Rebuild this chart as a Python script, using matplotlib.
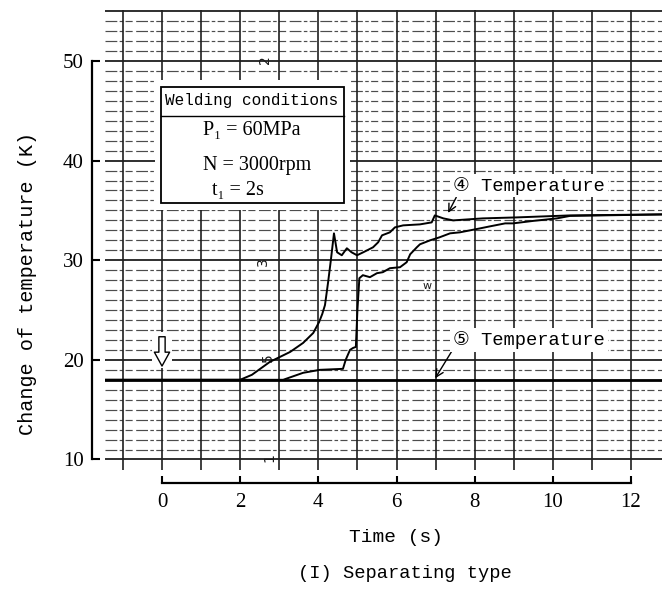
import numpy as np
import matplotlib
matplotlib.use("Agg")
import matplotlib.pyplot as plt
from matplotlib.patches import Rectangle

# ---------------- data ----------------
# Curve rising first (labelled 4 Temperature)
t_a = [-1.46, 2.0, 2.3, 2.76, 3.28, 3.61, 3.87, 4.02, 4.1, 4.17, 4.25, 4.32, 4.40,
       4.48, 4.6, 4.73, 4.85, 4.99, 5.15, 5.4, 5.53, 5.63, 5.83, 5.96, 6.17, 6.6,
       6.9, 6.98, 7.2, 7.45, 8.2, 9.08, 10.44, 12.8]
k_a = [18.0, 18.0, 18.5, 19.8, 20.8, 21.7, 22.7, 23.8, 24.6, 25.5, 27.8, 30.0, 32.7,
       30.8, 30.5, 31.2, 30.8, 30.5, 30.8, 31.3, 31.8, 32.5, 32.8, 33.3, 33.5, 33.6,
       33.8, 34.5, 34.2, 34.0, 34.2, 34.3, 34.5, 34.6]
# Curve rising later
t_b = [-1.46, 3.1, 3.61, 4.04, 4.63, 4.7, 4.81, 4.89, 4.96, 5.0, 5.05, 5.14, 5.32,
       5.5, 5.65, 5.83, 6.09, 6.26, 6.35, 6.52, 6.6, 6.86, 7.1, 7.37, 7.62, 7.88,
       8.14, 8.39, 8.65, 8.78, 8.98, 9.5, 10.1, 10.44, 12.8]
k_b = [18.0, 18.0, 18.7, 19.0, 19.1, 20.0, 21.0, 21.2, 21.3, 25.0, 28.2, 28.5, 28.3,
       28.7, 28.8, 29.2, 29.3, 29.8, 30.6, 31.3, 31.6, 32.0, 32.3, 32.7, 32.8, 33.0,
       33.2, 33.4, 33.6, 33.7, 33.7, 33.95, 34.2, 34.45, 34.6]
# Flat trace (labelled 5 Temperature)
t_c = [-1.46, 12.8]
k_c = [18.0, 18.0]

y_ticks = [10, 20, 30, 40, 50]
x_ticks = [0, 2, 4, 6, 8, 10, 12]

conditions_title = "Welding conditions"
conditions = ["P\u2081 = 60MPa", "N = 3000rpm", "t\u2081 = 2s"]

# ---------------- figure ----------------
W, H = 662, 591
fig = plt.figure(figsize=(W / 100, H / 100), dpi=100)
fig.patch.set_facecolor("white")

XL = (-1.4584, 12.793)
YL = (8.946, 55.117)

def fx(px):
    return px / W

def fy(py):
    return 1 - py / H

# grid-paper axes
ax = fig.add_axes([fx(105), fy(470), (662 - 105) / W, (470 - 10) / H])
ax.set_xlim(*XL)
ax.set_ylim(*YL)
ax.axis("off")

gc = "0.12"
minor = [k for k in range(11, 55) if k % 10 != 0]
ax.hlines(minor, XL[0], XL[1], colors="0.3", linewidth=0.85,
          linestyles=(0, (10, 2, 3, 2, 6, 3)), zorder=1)
ax.hlines([10, 20, 30, 40, 50, 55], XL[0], XL[1], colors=gc, linewidth=1.3, zorder=1)
ax.vlines(np.arange(-1, 13), YL[0], YL[1], colors=gc, linewidth=1.2, zorder=1)

# white areas behind inset box and arrow
ax.add_patch(Rectangle((-0.18, 35.0), 4.98, 13.1, fc="white", ec="none", zorder=2))
ax.add_patch(Rectangle((-0.26, 19.2), 0.52, 3.6, fc="white", ec="none", zorder=2))

# traces
ax.plot(t_c, k_c, color="black", linewidth=2.0, zorder=4)
ax.plot(t_a, k_a, color="black", linewidth=1.4, zorder=5)
ax.plot(t_b, k_b, color="black", linewidth=1.4, zorder=5)

# inset box
ax.add_patch(Rectangle((-0.026, 35.7), 4.69, 11.7, fc="white", ec="black",
                       linewidth=1.3, zorder=6))
ax.plot([-0.026, 4.664], [44.45, 44.45], color="black", linewidth=1.0, zorder=7)
ax.text(2.3, 46.0, conditions_title, ha="center", va="center",
        family=["Liberation Mono", "DejaVu Sans"], fontsize=11.5, zorder=8)
ax.text(1.05, 43.05, conditions[0], ha="left", va="center",
        family=["Liberation Serif", "DejaVu Serif"], fontsize=14.5, zorder=8)
ax.text(1.05, 39.55, conditions[1], ha="left", va="center",
        family=["Liberation Serif", "DejaVu Serif"], fontsize=14.5, zorder=8)
ax.text(1.28, 37.05, conditions[2], ha="left", va="center",
        family=["Liberation Serif", "DejaVu Serif"], fontsize=14.5, zorder=8)

# start arrow at t = 0
ax.annotate("", xy=(0, 19.1), xytext=(0, 22.6),
            arrowprops=dict(arrowstyle="simple,head_length=1.0,head_width=1.1,tail_width=0.45",
                            fc="white", ec="black", lw=1.0), zorder=8)

# curve labels
lab_font = ["Liberation Mono", "DejaVu Sans"]
ax.annotate("\u2463 Temperature", xy=(7.32, 34.75), xytext=(7.45, 37.5),
            ha="left", va="center", family=lab_font, fontsize=13.5,
            bbox=dict(fc="white", ec="none", pad=2),
            arrowprops=dict(arrowstyle="->", color="black", lw=1.0,
                            shrinkA=0, shrinkB=0, relpos=(0.03, 0.0)), zorder=9)
ax.annotate("\u2464 Temperature", xy=(6.99, 18.15), xytext=(7.45, 22.0),
            ha="left", va="center", family=lab_font, fontsize=13.5,
            bbox=dict(fc="white", ec="none", pad=2),
            arrowprops=dict(arrowstyle="->", color="black", lw=1.0,
                            shrinkA=0, shrinkB=0, relpos=(0.0, 0.0)), zorder=9)

# recorder pen marks
for s, tx, ky in [("2", 2.64, 50.1), ("3", 2.58, 29.9), ("5", 2.71, 20.2), ("1", 2.76, 10.2)]:
    ax.text(tx, ky, s, rotation=90, ha="center", va="center", fontsize=10,
            family="DejaVu Sans", color="0.1", zorder=3)
ax.text(6.78, 27.4, "w", ha="center", va="center", fontsize=8, family="DejaVu Sans",
        color="0.1", zorder=3)

# separate y axis
tick_font = ["Liberation Serif", "DejaVu Serif"]
ay = fig.add_axes([fx(92), fy(470), 0.02, (470 - 10) / H])
ay.set_ylim(*YL)
ay.set_xlim(0, 1)
ay.patch.set_visible(False)
for sp in ["top", "right", "bottom"]:
    ay.spines[sp].set_visible(False)
ay.spines["left"].set_bounds(10, 50)
ay.spines["left"].set_linewidth(1.6)
ay.set_xticks([])
ay.set_yticks(y_ticks)
ay.set_yticklabels([str(v) for v in y_ticks], family=tick_font, fontsize=15)
ay.tick_params(axis="y", direction="in", length=6, width=1.5, pad=6)

# separate x axis
axx = fig.add_axes([fx(105), fy(483), (662 - 105) / W, 0.02])
axx.set_xlim(*XL)
axx.set_ylim(0, 1)
axx.patch.set_visible(False)
for sp in ["top", "right", "left"]:
    axx.spines[sp].set_visible(False)
axx.spines["bottom"].set_bounds(0, 12)
axx.spines["bottom"].set_linewidth(1.6)
axx.set_yticks([])
axx.set_xticks(x_ticks)
axx.set_xticklabels([str(v) for v in x_ticks], family=tick_font, fontsize=15)
axx.tick_params(axis="x", direction="in", length=5, width=1.5, pad=7)

# titles
mono = ["Liberation Mono", "DejaVu Sans"]
fig.text(fx(28), fy(283), "Change of temperature (K)", rotation=90,
         ha="center", va="center", family=mono, fontsize=14.5)
fig.text(fx(396), fy(537), "Time (s)", ha="center", va="center", family=mono, fontsize=14)
fig.text(fx(405), fy(574), "(I) Separating type", ha="center", va="center",
         family=mono, fontsize=13.5)

fig.savefig("out.png", dpi=100)
